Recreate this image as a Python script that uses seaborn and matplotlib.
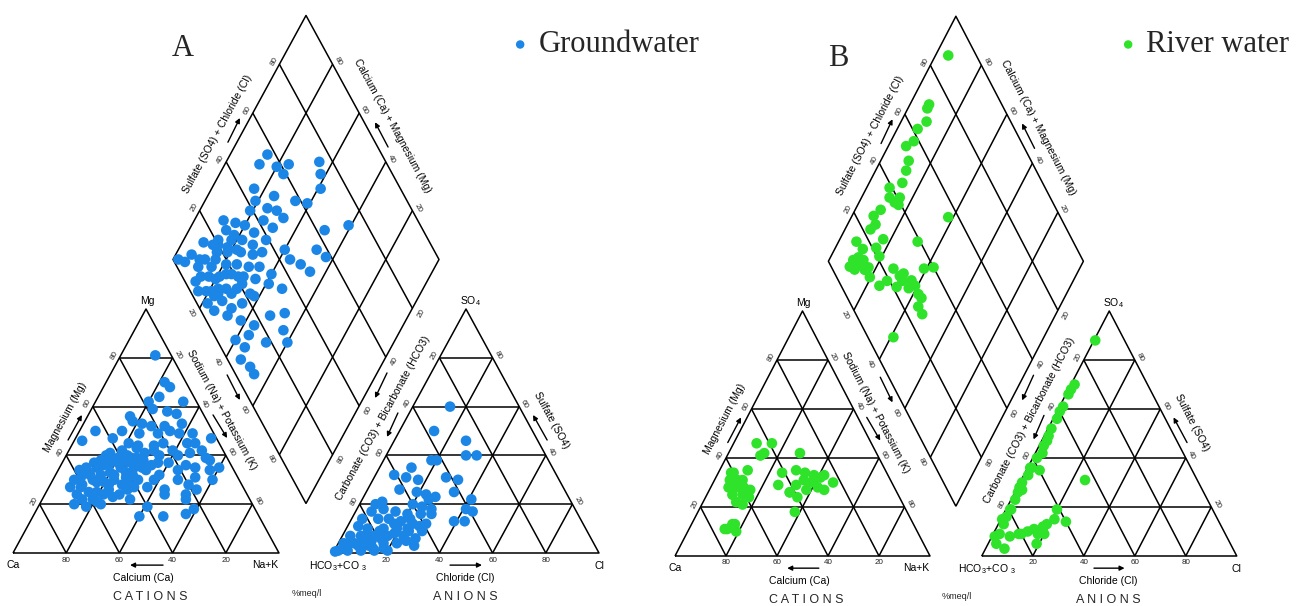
import numpy as np
import matplotlib
matplotlib.use("Agg")
import matplotlib.pyplot as plt
import seaborn as sns

# ---------------- data (percent of meq/l) ----------------
# Groundwater - cation triangle: Mg %, Na+K %
gw_cat_mg = [70, 64, 62, 62, 59, 58, 57, 56, 54, 53, 52, 52, 53, 50, 50, 49, 49, 50, 49, 49,
             47, 46, 47, 45, 44, 45, 42, 45, 45, 42, 41, 42, 43, 41, 40, 40, 41, 39, 38, 39,
             39, 38, 37, 37, 36, 35, 38, 35, 35, 36, 35, 35, 34, 32, 34, 31, 34, 35, 32, 32,
             32, 31, 30, 30, 30, 28, 30, 30, 28, 29, 28, 28, 27, 27, 26, 24, 26, 24, 25, 24,
             24, 22, 24, 20, 19, 20, 22, 19, 15, 15, 16, 18, 22, 27, 68, 81, 37, 40, 37, 39,
             30, 28, 31, 26, 33, 36, 34, 33, 36, 38, 30, 27, 25, 22, 29, 33, 37, 40, 32, 35,
             26, 23, 21, 44, 42, 38]
gw_cat_na = [22, 23, 33, 20, 23, 29, 33, 16, 18, 22, 26, 31, 37, 6, 16, 23, 30, 34, 38, 43,
             51, 3, 14, 21, 31, 34, 39, 43, 46, 50, 16, 20, 25, 29, 35, 42, 46, 53, 14, 20,
             25, 30, 36, 40, 47, 51, 55, 10, 14, 18, 23, 28, 33, 39, 45, 53, 57, 60, 13, 17,
             22, 27, 32, 38, 47, 52, 60, 8, 12, 17, 22, 27, 32, 37, 44, 53, 56, 12, 16, 22,
             28, 33, 45, 13, 18, 23, 19, 41, 40, 49, 57, 59, 54, 8, 25, 13, 12, 15, 24, 27,
             23, 30, 10, 23, 26, 34, 8, 12, 16, 18, 15, 12, 19, 15, 20, 20, 21, 23, 29, 31,
             30, 26, 21, 25, 32, 27]
# Groundwater - anion triangle: SO4 %, Cl %
gw_an_so4 = [60, 50, 46, 40, 40, 38, 38, 35, 32, 31, 30, 31, 30, 26, 25, 25, 24, 22, 23, 22,
             21, 20, 20, 19, 18, 18, 17, 17, 18, 17, 16, 16, 16, 13, 13, 14, 14, 14, 13, 12,
             12, 11, 10, 10, 10, 9, 9, 7, 7, 7, 7, 7, 4, 4, 3, 4, 4, 1, 1, 1,
             1, 1, 0.6, 4, 7, 9, 12, 10, 6, 5, 3, 2, 3, 5, 6, 8, 2, 5, 11, 14, 2]
gw_an_cl = [14, 13, 27, 30, 34, 18, 20, 12, 7, 12, 17, 27, 32, 12, 19, 33, 23, 25, 27, 41,
            8, 6, 20, 24, 28, 41, 44, 6, 10, 15, 20, 25, 29, 39, 43, 4, 10, 14, 19, 24,
            29, 4, 8, 14, 19, 24, 29, 3, 7, 12, 17, 23, 2, 6, 12, 17, 22, 1.5, 5, 10,
            15, 20, 0.5, 4, 9, 13, 17, 23, 28, 12, 29, 3, 8, 9, 15, 19, 14, 25, 27, 22, 18]
# Groundwater - diamond: Na+K %, SO4+Cl %
gw_dia_na = [14, 13, 20, 24, 24, 35, 38, 41, 16, 25, 34, 39, 19, 19, 25, 29, 33, 26, 31, 11,
             16, 20, 14, 25, 51, 59, 31, 8, 13, 18, 22, 27, 40, 52, 57, 2, 6, 12, 15, 19,
             24, 29, 32, 44, 49, 54, 11, 16, 21, 25, 30, 34, 40, 13, 17, 21, 25, 30, 35, 41,
             47, 16, 21, 26, 30, 36, 22, 27, 32, 35, 38, 48, 53, 56, 26, 32, 38, 44, 40, 44,
             52, 60, 45, 46, 51, 54, 5, 16, 23, 23, 29, 31, 23, 18, 14, 18, 12, 20, 24, 28,
             19, 10, 14, 22]
gw_dia_s = [57, 52, 58, 63, 59, 75, 73, 70, 45, 51, 58, 62, 43, 39, 46, 49, 50, 42, 44, 27,
            31, 34, 26, 36, 63, 73, 39, 15, 21, 26, 30, 33, 44, 56, 58, 2, 8, 12, 18, 22,
            27, 31, 35, 44, 47, 49, 8, 13, 19, 23, 27, 31, 34, 4, 10, 14, 19, 23, 27, 31,
            35, 3, 8, 14, 18, 22, 4, 10, 12, 17, 23, 25, 31, 27, 5, 9, 13, 17, 7, 13,
            18, 26, 9, 5, 7, 7, 4, 16, 17, 11, 15, 21, 8, 28, 20, 23, 18, 12, 10, 21,
            6, 10, 7, 26]

# River water - cation triangle: Mg %, Na+K %
rw_cat_mg = [46, 46, 42, 41, 42, 34, 35, 31, 31, 28, 28, 28, 27, 25, 25, 24, 22, 21, 34, 35,
             34, 33, 29, 26, 29, 31, 31, 32, 30, 27, 28, 27, 24, 26, 18, 11, 13, 10, 11, 13,
             30, 33, 34, 31]
rw_cat_na = [9, 15, 14, 13, 28, 6, 11, 6, 9, 7, 10, 13, 16, 10, 14, 17, 13, 16, 25, 30,
             34, 42, 26, 32, 33, 35, 39, 41, 47, 38, 42, 45, 36, 32, 38, 14, 16, 19, 15, 17,
             38, 38, 5, 11]
# River water - anion triangle: SO4 %, Cl %
rw_an_so4 = [88, 70, 68, 66, 61, 59, 56, 52, 49, 47, 42, 40, 36, 35, 33, 30, 26, 23, 19, 16,
             13, 9, 5, 3, 27, 8, 9, 10, 11, 9, 12, 9, 5, 13, 15, 19, 14, 31, 9, 15,
             8, 19, 28, 36, 45]
rw_an_cl = [0.5, 1.4, 1.0, 1.0, 1.4, 1.1, 1.5, 1.3, 1.7, 2.1, 2.8, 1.6, 1.6, 5.2, 1.7, 0.8, 1.2, 1.6, 2.0, 1.7,
            2.1, 2.5, 3.2, 7.4, 2.3, 7, 10, 13, 15, 17.5, 18, 20, 19, 19, 21, 20, 26, 25, 11, 0.5,
            1.1, 1.6, 0.8, 1.0, 1.8]
# River water - diamond: Na+K %, SO4+Cl %
rw_dia_na = [5, 7.5, 7.6, 10, 8, 9, 7, 11, 12, 13, 9, 11, 14, 15, 16, 10, 8.5, 11, 10, 17,
             7, 11, 16, 19, 9.5, 13, 16, 12, 19.5, 13.5, 31, 38, 27, 32, 39, 42.5, 25, 27, 32, 33,
             37, 39, 42, 44, 44.5, 47.6, 41, 9.5, 11, 17, 31, 36.5]
rw_dia_s = [89, 71.5, 70, 67, 62, 58, 54, 52, 49, 45, 39, 37, 38, 41, 39, 31, 27, 26, 23, 26,
            15, 16, 21.5, 21, 10, 11.6, 12.5, 8.6, 13, 14, 39, 56, 24, 27, 36, 40, 15, 19, 21.5, 25,
            26, 29, 28.6, 29, 26, 26, 10, 7.3, 12.6, 14.5, 25, 28.7]

panel_letters = ["A", "B"]
legend_labels = ["Groundwater", "River water"]
colors = ["#1b86e6", "#2fe32a"]
tick_vals = [20, 40, 60, 80]

# ---------------- geometry ----------------
H = np.sqrt(3) / 2
G = 0.203


def cation_xy(mg, na):
    mg = np.asarray(mg, float) / 100
    na = np.asarray(na, float) / 100
    return na + 0.5 * mg, H * mg


def anion_xy(so4, cl):
    so4 = np.asarray(so4, float) / 100
    cl = np.asarray(cl, float) / 100
    return 1 + G + cl + 0.5 * so4, H * so4


def diamond_xy(na, s):
    na = np.asarray(na, float) / 100
    s = np.asarray(s, float) / 100
    return (na + 1 + G + s) / 2, H * (1 + G + s - na)


sns.set_style("white")
plt.rcParams["font.family"] = ["Liberation Sans", "DejaVu Sans"]
plt.rcParams["mathtext.fontset"] = "custom"
plt.rcParams["mathtext.rm"] = "Liberation Sans"
plt.rcParams["mathtext.it"] = "Liberation Sans:italic"

W, HP = 1310, 606
fig = plt.figure(figsize=(13.1, 6.06), dpi=100)

panels = [
    dict(px0=0, px1=650, ox=13, oy=553, sx=266.0, sy=244.0 / H,
         data=(gw_cat_mg, gw_cat_na, gw_an_so4, gw_an_cl, gw_dia_na, gw_dia_s),
         letter_xy=(183, 48), leg_x=511, leg_y=45),
    dict(px0=650, px1=1310, ox=675, oy=556, sx=255.0, sy=245.0 / H,
         data=(rw_cat_mg, rw_cat_na, rw_an_so4, rw_an_cl, rw_dia_na, rw_dia_s),
         letter_xy=(838, 58), leg_x=1119, leg_y=45),
]

LW = 1.1
lk = dict(color="black", lw=LW, solid_capstyle="butt", zorder=1)
TK = dict(fontsize=5.8, color="#222222", ha="center", va="center")
LBL = dict(fontsize=7.5, color="black", ha="center", va="center")


def arrow(ax, p0, p1):
    ax.annotate("", xy=p1, xytext=p0,
                arrowprops=dict(arrowstyle="-|>", lw=1.0, color="black",
                                mutation_scale=7, shrinkA=0, shrinkB=0))


def edge_labels(ax, pts, labels, rot, normal, dist):
    for (x, y), lab in zip(pts, labels):
        ax.annotate(lab, xy=(x, y), xytext=(normal[0] * dist * 0.72, normal[1] * dist * 0.72),
                    textcoords="offset points", rotation=rot, **TK)


for i, P in enumerate(panels):
    ax = fig.add_axes([P["px0"] / W, 0, (P["px1"] - P["px0"]) / W, 1])
    sx, sy = P["sx"], P["sy"]
    ax.set_xlim((P["px0"] - P["ox"]) / sx, (P["px1"] - P["ox"]) / sx)
    ax.set_ylim(-(HP - P["oy"]) / sy, P["oy"] / sy)
    ax.axis("off")

    th = np.degrees(np.arctan2(H * sy, 0.5 * sx))
    s_, c_ = np.sin(np.radians(th)), np.cos(np.radians(th))

    # ---- frames ----
    A0 = 1 + G
    ax.plot([0, 1, 0.5, 0], [0, 0, H, 0], **lk)
    ax.plot([A0, A0 + 1, A0 + 0.5, A0], [0, 0, H, 0], **lk)
    Bv = np.array([1 + G / 2, G * H])
    Lv = Bv + np.array([-0.5, H])
    Rv = Bv + np.array([0.5, H])
    Tv = Bv + np.array([0, 2 * H])
    ax.plot([Bv[0], Lv[0], Tv[0], Rv[0], Bv[0]], [Bv[1], Lv[1], Tv[1], Rv[1], Bv[1]], **lk)
    for f in np.array(tick_vals) / 100:
        for off in (0, A0):
            ax.plot([off + f / 2, off + 1 - f / 2], [H * f, H * f], **lk)
            ax.plot([off + f, off + f + (1 - f) / 2], [0, H * (1 - f)], **lk)
            ax.plot([off + f, off + f / 2], [0, H * f], **lk)
        p0, p1 = Lv + f * (Bv - Lv), Tv + f * (Rv - Tv)
        ax.plot([p0[0], p1[0]], [p0[1], p1[1]], **lk)
        p0, p1 = Lv + f * (Tv - Lv), Bv + f * (Rv - Bv)
        ax.plot([p0[0], p1[0]], [p0[1], p1[1]], **lk)

    # ---- tick labels ----
    fr = np.array(tick_vals) / 100
    labs = [str(v) for v in tick_vals]
    rlabs = [str(100 - v) for v in tick_vals]
    edge_labels(ax, [(m / 2, H * m) for m in fr], labs, th, (-s_, c_), 6)
    edge_labels(ax, [(n + (1 - n) / 2, H * (1 - n)) for n in fr], labs, -th, (s_, c_), 6)
    edge_labels(ax, [(f, 0) for f in fr], rlabs, 0, (0, -1), 7)
    edge_labels(ax, [(A0 + s / 2, H * s) for s in fr], rlabs, th, (-s_, c_), 6)
    edge_labels(ax, [(A0 + (1 - s) + s / 2, H * s) for s in fr], labs, -th, (s_, c_), 6)
    edge_labels(ax, [(A0 + f, 0) for f in fr], labs, 0, (0, -1), 7)
    edge_labels(ax, [tuple(Lv + s * (Tv - Lv)) for s in fr], labs, th, (-s_, c_), 6)
    edge_labels(ax, [tuple(Tv + n * (Rv - Tv)) for n in fr], rlabs, -th, (s_, c_), 6)
    edge_labels(ax, [tuple(Lv + n * (Bv - Lv)) for n in fr], labs, -th, (-s_, -c_), 10)
    edge_labels(ax, [tuple(Bv + s * (Rv - Bv)) for s in fr], rlabs, th, (s_, -c_), 10)

    # ---- axis titles & arrows ----
    ax.text(0.196, 0.483, "Magnesium (Mg)", rotation=th, **LBL)
    arrow(ax, (0.207, 0.401), (0.259, 0.490))
    ax.text(0.786, 0.508, "Sodium (Na) + Potassium (K)", rotation=-th, **LBL)
    arrow(ax, (0.752, 0.490), (0.805, 0.408))
    arrow(ax, (0.805, 0.632), (0.853, 0.543))
    ax.text(0.489, -0.089, "Calcium (Ca)", **LBL)
    arrow(ax, (0.564, -0.043), (0.440, -0.043))
    ax.text(0.0, -0.043, "Ca", **LBL)
    ax.text(0.947, -0.043, "Na+K", **LBL)
    ax.text(0.504, 0.894, "Mg", **LBL)
    ax.text(1.105, -0.142, "%meq/l", fontsize=6.5, ha="center", va="center")
    ax.text(0.515, -0.157, "C A T I O N S", fontsize=9, ha="center", va="center")
    ax.text(1.699, -0.157, "A N I O N S", fontsize=9, ha="center", va="center")

    ax.text(1.222, -0.046, "HCO$_3$+CO $_3$", **LBL)
    ax.text(A0 + 1, -0.046, "Cl", **LBL)
    ax.text(1.718, 0.894, "SO$_4$", **LBL)
    ax.text(1.391, 0.479, "Carbonate (CO3) + Bicarbonate (HCO3)", rotation=th, **LBL)
    arrow(ax, (1.447, 0.497), (1.406, 0.412))
    arrow(ax, (1.406, 0.639), (1.361, 0.550))
    ax.text(2.026, 0.472, "Sulfate (SO4)", rotation=-th, **LBL)
    arrow(ax, (2.008, 0.401), (1.955, 0.490))
    ax.text(1.699, -0.089, "Chloride (Cl)", **LBL)
    arrow(ax, (1.643, -0.043), (1.763, -0.043))

    ax.text(0.767, 1.487, "Sulfate (SO4) + Chloride (Cl)", rotation=th, **LBL)
    arrow(ax, (0.808, 1.458), (0.853, 1.544))
    ax.text(1.425, 1.515, "Calcium (Ca) + Magnesium (Mg)", rotation=-th, **LBL)
    arrow(ax, (1.410, 1.441), (1.361, 1.529))

    # ---- points ----
    cmg, cna, aso, acl, dna, ds = P["data"]
    col = colors[i]
    kw = dict(color=col, s=58, edgecolor="none", linewidth=0, zorder=3, ax=ax)
    x, y = cation_xy(cmg, cna)
    sns.scatterplot(x=x, y=y, **kw)
    x, y = anion_xy(aso, acl)
    sns.scatterplot(x=x, y=y, **kw)
    x, y = diamond_xy(dna, ds)
    sns.scatterplot(x=x, y=y, label=legend_labels[i], **kw)

    ax.legend(loc="center left", bbox_to_anchor=(P["leg_x"] / W, 1 - P["leg_y"] / HP),
              bbox_transform=fig.transFigure, frameon=False, borderpad=0, borderaxespad=0,
              handlelength=0.6, handletextpad=0.3, markerscale=0.8,
              prop={"family": "Liberation Serif", "size": 22})

    fig.text(P["letter_xy"][0] / W, 1 - P["letter_xy"][1] / HP, panel_letters[i],
             family="Liberation Serif", fontsize=22, ha="center", va="center")

fig.savefig("out.png", dpi=100)
